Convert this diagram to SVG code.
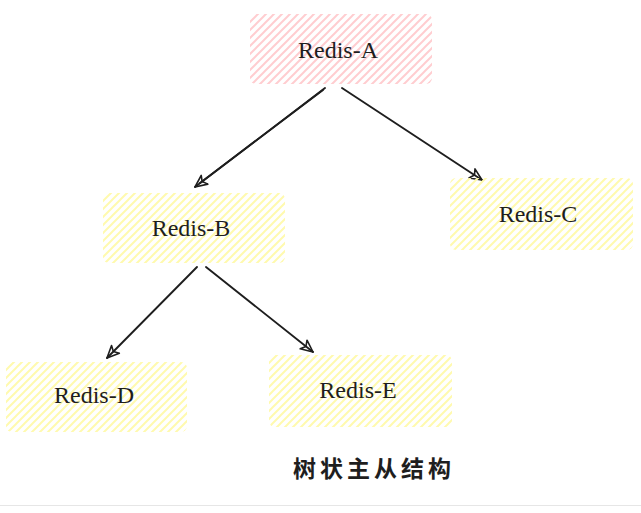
<svg xmlns="http://www.w3.org/2000/svg" width="641" height="513" viewBox="0 0 641 513">
  <style>
    .lbl { font-family: "Liberation Serif", "Times New Roman", serif; font-size: 24px; fill: #1e1e1e; text-anchor: middle; }
    .edge { fill: none; stroke: #1e1e1e; stroke-width: 1.9; stroke-linecap: round; }
    .title { font-family: "Noto Sans CJK SC", "Noto Sans", sans-serif; font-size: 23px; font-weight: bold; fill: #1e1e1e; letter-spacing: 4px; }
  </style>
  <defs>
    <pattern id="hatchPink" patternUnits="userSpaceOnUse" width="8" height="8">
      <path d="M-1,1 l2,-2 M0,8 l8,-8 M7,9 l2,-2" stroke="#ffcdd0" stroke-width="2"/>
    </pattern>
    <pattern id="hatchYellow" patternUnits="userSpaceOnUse" width="8" height="8">
      <path d="M-1,1 l2,-2 M0,8 l8,-8 M7,9 l2,-2" stroke="#fffaae" stroke-width="2"/>
    </pattern>
    <marker id="arrow" viewBox="0 0 14 14" refX="13" refY="7" markerWidth="14" markerHeight="14" markerUnits="userSpaceOnUse" orient="auto">
      <path d="M1,1.5 L13,7 L1,12.5 L4,7 Z" fill="none" stroke="#1e1e1e" stroke-width="1.6" stroke-linejoin="round"/>
    </marker>
  </defs>
  <rect width="641" height="513" fill="#ffffff"/>

  <g id="connectors">
    <path class="edge" d="M325,88 L195,187" marker-end="url(#arrow)"/>
    <path class="edge" d="M323,90 L200,183" stroke-width="1"/>
    <path class="edge" d="M342,88 L482,180" marker-end="url(#arrow)"/>
    <path class="edge" d="M197,267 L107,358" marker-end="url(#arrow)"/>
    <path class="edge" d="M206,267 L313,352" marker-end="url(#arrow)"/>
  </g>

  <g id="node-a">
    <rect x="250" y="14" width="182" height="70" rx="6" fill="url(#hatchPink)"/>
    <text class="lbl" x="338" y="58">Redis-A</text>
  </g>
  <g id="node-b">
    <rect x="103" y="193" width="182" height="70" rx="6" fill="url(#hatchYellow)"/>
    <text class="lbl" x="191" y="236">Redis-B</text>
  </g>
  <g id="node-c">
    <rect x="450" y="178" width="183" height="72" rx="6" fill="url(#hatchYellow)"/>
    <text class="lbl" x="538" y="222">Redis-C</text>
  </g>
  <g id="node-d">
    <rect x="6" y="362" width="181" height="70" rx="6" fill="url(#hatchYellow)"/>
    <text class="lbl" x="94" y="403">Redis-D</text>
  </g>
  <g id="node-e">
    <rect x="269" y="355" width="183" height="72" rx="6" fill="url(#hatchYellow)"/>
    <text class="lbl" x="358" y="398">Redis-E</text>
  </g>

  <g id="caption">
    <text class="title" x="293" y="477">树状主从结构</text>
  </g>
  <line x1="0" y1="505.5" x2="641" y2="505.5" stroke="#e6e6e6" stroke-width="1"/>
</svg>
